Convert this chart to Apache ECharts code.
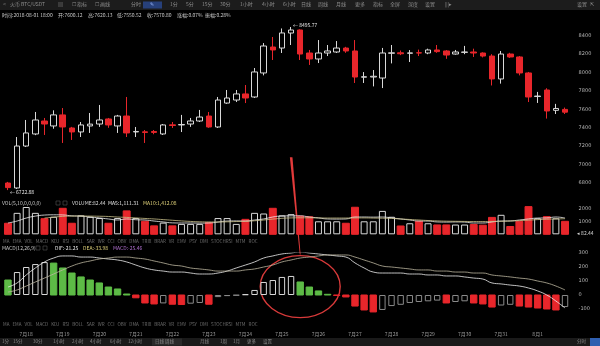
<!DOCTYPE html>
<html><head><meta charset="utf-8">
<script src="https://cdn.jsdelivr.net/npm/echarts@6/dist/echarts.min.js"></script>
<style>html,body{margin:0;padding:0;background:#000;}#c{width:600px;height:346px;}</style>
</head><body><div id="c"></div>
<script>
// ---- data ----
const categories = [
 '07-17 12:00','07-17 18:00',
 '07-18 00:00','07-18 06:00','07-18 12:00','07-18 18:00',
 '07-19 00:00','07-19 06:00','07-19 12:00','07-19 18:00',
 '07-20 00:00','07-20 06:00','07-20 12:00','07-20 18:00',
 '07-21 00:00','07-21 06:00','07-21 12:00','07-21 18:00',
 '07-22 00:00','07-22 06:00','07-22 12:00','07-22 18:00',
 '07-23 00:00','07-23 06:00','07-23 12:00','07-23 18:00',
 '07-24 00:00','07-24 06:00','07-24 12:00','07-24 18:00',
 '07-25 00:00','07-25 06:00','07-25 12:00','07-25 18:00',
 '07-26 00:00','07-26 06:00','07-26 12:00','07-26 18:00',
 '07-27 00:00','07-27 06:00','07-27 12:00','07-27 18:00',
 '07-28 00:00','07-28 06:00','07-28 12:00','07-28 18:00',
 '07-29 00:00','07-29 06:00','07-29 12:00','07-29 18:00',
 '07-30 00:00','07-30 06:00','07-30 12:00','07-30 18:00',
 '07-31 00:00','07-31 06:00','07-31 12:00','07-31 18:00',
 '08-01 00:00','08-01 06:00','08-01 12:00','08-01 18:00'
];
const opens  = [6800,6746,7202,7333,7474,7420,7540,7398,7355,7420,7441,7496,7420,7528,7355,7356,7360,7333,7432,7431,7441,7474,7528,7409,7669,7702,7768,7735,7996,8278,8267,8430,8463,8213,8148,8213,8224,8267,8235,7950,7952,7941,8210,8215,8210,8215,8213,8246,8235,8202,8220,8224,8213,8180,7931,8202,8170,7996,7740,7811,7590,7600];
const closes = [6750,7202,7344,7485,7441,7540,7409,7355,7431,7440,7485,7431,7528,7344,7360,7350,7350,7431,7425,7436,7474,7517,7409,7702,7724,7768,7724,8007,8289,8246,8431,8463,8202,8148,8213,8235,8267,8235,7952,7955,7960,8213,8215,8205,8214,8213,8246,8228,8191,8224,8224,8213,8180,7931,8202,8170,7996,7735,7745,7583,7610,7570];
const lows   = [6722.88,6735,7191,7320,7322,7390,7235,7268,7300,7344,7410,7400,7344,7300,7300,7235,7330,7322,7398,7354,7410,7463,7400,7398,7660,7680,7669,7724,7970,8137,8213,8300,8137,8083,8104,8180,8213,8215,7887,7887,7850,7832,8100,8190,8115,8180,8200,8215,8150,8195,8200,8170,8165,7860,7880,8160,7970,7680,7670,7500,7550,7550];
const highs  = [6812,7300,7485,7572,7507,7590,7615,7410,7463,7561,7648,7507,7540,7735,7409,7376,7376,7441,7463,7540,7507,7594,7572,7735,7811,7811,7865,8050,8321,8387,8480,8495.77,8470,8246,8354,8300,8343,8280,8354,8006,8028,8268,8300,8240,8245,8250,8260,8300,8245,8246,8290,8260,8220,8200,8235,8215,8180,8007,7790,7830,7660,7620];
const volumes = [850,1650,2100,1650,1200,1350,2000,850,1450,1350,1250,850,1250,1800,1250,1000,650,900,650,800,800,800,900,1250,1250,800,1150,1650,1600,2000,1450,1550,1400,1350,1000,1000,1000,850,2080,1000,1000,1800,1350,640,850,1000,850,720,720,750,750,750,700,1300,1500,600,1000,2130,1230,1360,1230,1000];
const volMA5 = [870,1020,1250,1400,1480,1500,1490,1420,1400,1330,1260,1180,1100,1180,1120,1100,1020,950,880,870,870,860,870,940,1020,1030,1020,1100,1180,1330,1410,1420,1420,1330,1260,1180,1170,1180,1330,1330,1320,1330,1260,1180,1100,1020,1020,950,940,950,940,870,870,950,1020,1030,1100,1180,1250,1260,1330,1250];
const volMA10 = [null,null,null,null,1250,1320,1380,1400,1410,1400,1390,1370,1330,1300,1260,1220,1180,1130,1080,1030,990,960,950,950,960,980,1000,1040,1100,1170,1230,1260,1270,1270,1260,1250,1250,1250,1260,1260,1250,1240,1220,1180,1140,1100,1060,1030,1010,1000,990,980,980,990,1000,1020,1050,1090,1130,1160,1180,1200];
const macdHist = [107,164,200,221,235,228,193,157,129,107,86,57,43,7,-20,-57,-64,-60,-66,-68,-62,-57,-66,-15,-8,-3,5,36,93,107,129,136,93,57,29,5,-3,-14,-79,-107,-121,-107,-79,-70,-57,-50,-45,-40,-57,-50,-45,-57,-64,-86,-75,-70,-79,-86,-93,-100,-107,-86];
const dif = [57,86,143,193,236,264,279,279,271,271,264,257,250,236,214,193,179,171,164,164,157,150,150,157,171,193,214,236,264,279,293,300,307,300,293,286,279,271,229,193,164,157,157,157,150,150,143,143,136,136,129,121,114,86,79,71,64,50,29,0,-43,-93];
const dea = [21,36,64,93,121,150,179,207,229,243,257,264,271,271,264,257,243,229,214,207,193,186,179,171,171,171,179,186,200,214,236,250,264,271,279,286,286,286,271,250,229,207,200,193,186,179,179,171,171,164,164,157,157,143,136,129,121,114,100,86,64,36];
const priceTicks = {min:6600, max:8600, step:200};
const volTicks = {min:0, max:2400, step:1000};
const macdTicks = {min:-200, max:300, step:100};

// ---- styles ----
const RED='#e8262b', GREEN='#5dbb46', UPLINE='#d8d8d8', BG='#000';
const LBL='#b8b8b8';
const GL=3.4, GR=30.4;

const kData = opens.map((o,i)=>[o,closes[i],lows[i],highs[i]]);
const volData = volumes.map((v,i)=>({value:v,itemStyle: closes[i]>=opens[i]?{color:BG,borderColor:UPLINE,borderWidth:1}:{color:RED,borderColor:RED}}));
const macdData = macdHist.map((v,i)=>{
  const p = i>0?macdHist[i-1]:Infinity;
  let st;
  if(v>=0){ st = (i>0 && v>p)?{color:BG,borderColor:UPLINE,borderWidth:1}:{color:GREEN,borderColor:GREEN}; }
  else { st = (v<p)?{color:RED,borderColor:RED}:{color:BG,borderColor:'#8a8a8a',borderWidth:1}; }
  return {value:v,itemStyle:st};
});

const chart = echarts.init(document.getElementById('c'),null,{renderer:'canvas'});
const hideAxis = {show:false};
const xBase = {type:'category',data:categories,boundaryGap:true,axisLine:{show:false},axisTick:{show:false},splitLine:{show:false}};
const plain = v=>String(v);
const yBase = (t,extra)=>Object.assign({type:'value',position:'right',scale:false,min:t.min,max:t.max,interval:t.step,
  axisLine:{show:false},axisTick:{show:false},splitLine:{show:false},
  axisLabel:{color:LBL,fontSize:5,margin:9,fontFamily:'DejaVu Sans',formatter:plain,showMinLabel:false,showMaxLabel:false}},extra||{});

const T = (x,y,text,fill,size,extra)=>Object.assign({type:'text',left:x,top:y,style:{text:text,fill:fill||'#aaa',font:(size||5)+'px "Noto Sans CJK SC", sans-serif'}},extra||{});

chart.setOption({
  backgroundColor:BG,
  animation:false,
  grid:[
    {left:GL,right:GR,top:17.4,height:184},
    {left:GL,right:GR,top:203.1,height:31.2},
    {left:GL,right:GR,top:253,height:70}
  ],
  xAxis:[
    Object.assign({},xBase,{gridIndex:0,axisLabel:hideAxis}),
    Object.assign({},xBase,{gridIndex:1,axisLabel:hideAxis}),
    Object.assign({},xBase,{gridIndex:2,axisLabel:{color:'#9a9a9a',fontSize:5,margin:9,
      interval:(i,v)=>v.slice(6)==='00:00',
      formatter:v=>parseInt(v.slice(0,2))+'月'+parseInt(v.slice(3,5)),fontFamily:'"Noto Sans CJK SC"'}})
  ],
  yAxis:[
    yBase(priceTicks,{gridIndex:0}),
    yBase(volTicks,{gridIndex:1}),
    yBase(macdTicks,{gridIndex:2,axisLabel:{color:LBL,fontSize:5,margin:9,fontFamily:'DejaVu Sans',formatter:plain,showMinLabel:false,showMaxLabel:true}})
  ],
  series:[
    {type:'candlestick',xAxisIndex:0,yAxisIndex:0,data:kData,barWidth:'66%',
      itemStyle:{color:BG,color0:RED,borderColor:UPLINE,borderColor0:RED,borderWidth:1}},
    {type:'bar',xAxisIndex:1,yAxisIndex:1,data:volData,barWidth:'76%'},
    {type:'line',xAxisIndex:1,yAxisIndex:1,data:volMA5,symbol:'none',smooth:true,lineStyle:{color:'#f0f0f0',width:0.8}},
    {type:'line',xAxisIndex:1,yAxisIndex:1,data:volMA10,symbol:'none',smooth:true,lineStyle:{color:'#c9c08a',width:0.8}},
    {type:'bar',xAxisIndex:2,yAxisIndex:2,data:macdData,barWidth:'70%'},
    {type:'line',xAxisIndex:2,yAxisIndex:2,data:dif,symbol:'none',smooth:true,lineStyle:{color:'#f0f0f0',width:0.8}},
    {type:'line',xAxisIndex:2,yAxisIndex:2,data:dea,symbol:'none',smooth:true,lineStyle:{color:'#bdb6a0',width:0.8}}
  ]
});

// ---- overlay texts, bars and the hand-drawn annotation ----
const hiIdx = highs.indexOf(Math.max(...highs));
const loIdx = lows.indexOf(Math.min(...lows));
const pHi = chart.convertToPixel({xAxisIndex:0,yAxisIndex:0},[hiIdx,highs[hiIdx]]);
const pLo = chart.convertToPixel({xAxisIndex:0,yAxisIndex:0},[loIdx,lows[loIdx]]);
const pArrowTop = chart.convertToPixel({xAxisIndex:0,yAxisIndex:0},[31.1,7080]);
const pArrowBot = chart.convertToPixel({xAxisIndex:2,yAxisIndex:2},[31.8,290]);
const pEllC = chart.convertToPixel({xAxisIndex:2,yAxisIndex:2},[31.5,60]);

const g = [];
// top toolbar
g.push({type:'rect',shape:{x:0,y:0,width:600,height:10},style:{fill:'#1c1c1c'}});
g.push({type:'rect',shape:{x:143,y:1.5,width:19,height:7},style:{fill:'#27407a'}});
const tb = [[3,'<'],[10,'火币 BTC/USDT'],[58,'▤'],[72,'☐ 指标'],[95,'☐ 画线'],[131,'分时'],[150,'✎'],[170,'1分'],[186,'5分'],[202,'15分'],[220,'30分'],[240,'1小时'],[262,'4小时'],[283,'6小时'],[301,'日线'],[318,'周线'],[336,'月线'],[355,'更多'],[373,'指标'],[390,'全屏'],[408,'深度'],[425,'设置'],[445,'|||▸'],[577,'设置'],[590,'⇱']];
tb.forEach(t=>g.push(T(t[0],1.8,t[1],t[1]==='✎'?'#9bb8ff':'#8e8e8e',5)));
// info row
const info=[[2,'时间:2018-08-01 18:00'],[58,'开:7600.12'],[88,'高:7620.13'],[117,'低:7550.52'],[147,'收:7570.80'],[177,'涨幅:0.07%'],[205,'振幅:0.28%']];
info.forEach(t=>g.push(T(t[0],13,t[1],'#c8c8c8',5)));
// price markers
g.push(T(pHi[0]+2,pHi[1]-4,'← '+highs[hiIdx].toFixed(2),'#e6e6e6',5));
g.push(T(pLo[0]+2,pLo[1]-1,'← '+lows[loIdx].toFixed(2),'#e6e6e6',5));
// volume legend
g.push(T(2,200.5,'VOL(5,10,0,0,0,0)','#c8c8c8',5));
g.push({type:'rect',shape:{x:56,y:201,width:4,height:4},style:{fill:'none',stroke:'#555',lineWidth:0.6}});
g.push({type:'rect',shape:{x:63,y:201,width:4,height:4},style:{fill:'none',stroke:'#555',lineWidth:0.6}});
g.push(T(72,200.5,'VOLUME:82.44','#d8d8d8',5));
g.push(T(108,200.5,'MA5:1,111.31','#e8e8e8',5));
g.push(T(143,200.5,'MA10:1,412.08','#e0d27a',5));
g.push(T(577,231,'◂ 82.44','#d8d8d8',5));
// indicator tab rows
const tabs='MA   EMA   VOL   MACD   KDJ   RSI   BOLL   SAR   WR   CCI   OBV   DMA   TRIX   BRAR   VR   EMV   PSY   DMI   STOCHRSI   MTM   ROC';
g.push(T(3,239.5,tabs,'#6e6e6e',4.5));
g.push(T(3,322.5,tabs,'#6e6e6e',4.5));
// MACD legend
g.push(T(2,245.5,'MACD(12,26,9)','#c8c8c8',5));
g.push({type:'rect',shape:{x:36,y:246,width:4,height:4},style:{fill:'none',stroke:'#555',lineWidth:0.6}});
g.push({type:'rect',shape:{x:43,y:246,width:4,height:4},style:{fill:'none',stroke:'#555',lineWidth:0.6}});
g.push(T(55,245.5,'DIF:-21.25','#e8e8e8',5));
g.push(T(83,245.5,'DEA:-33.98','#e0d27a',5));
g.push(T(113,245.5,'MACD:-25.46','#b070d0',5));
// bottom bar
g.push({type:'rect',shape:{x:0,y:338,width:600,height:8},style:{fill:'#1a1a1a'}});
g.push({type:'rect',shape:{x:152,y:338.5,width:30,height:7},style:{fill:'#2a2a2a'}});
const bb=[[2,'1分'],[13,'15分'],[33,'30分'],[53,'1小时'],[72,'2小时'],[90,'4小时'],[110,'6小时'],[128,'12小时'],[155,'日线 周线'],[200,'月线'],[220,'1周'],[233,'1月'],[247,'更多'],[263,'设置'],[577,'分时']];
bb.forEach(t=>g.push(T(t[0],339.5,t[1],'#8c8c8c',4.5)));
g.push({type:'rect',shape:{x:590,y:338,width:10,height:8},style:{fill:'#2f5fb0'}});
// hand-drawn red annotation
g.push({type:'polygon',shape:{points:[[pArrowTop[0]-1.2,pArrowTop[1]],[pArrowTop[0]+1.4,pArrowTop[1]],[pArrowBot[0]+0.4,pArrowBot[1]],[pArrowBot[0]-0.4,pArrowBot[1]]]},style:{fill:'#e23a3a'}});
g.push({type:'ellipse',shape:{cx:pEllC[0],cy:pEllC[1],rx:40,ry:31},style:{fill:'none',stroke:'#d83a3a',lineWidth:1.4}});

chart.setOption({graphic:g});
</script>
</body></html>
